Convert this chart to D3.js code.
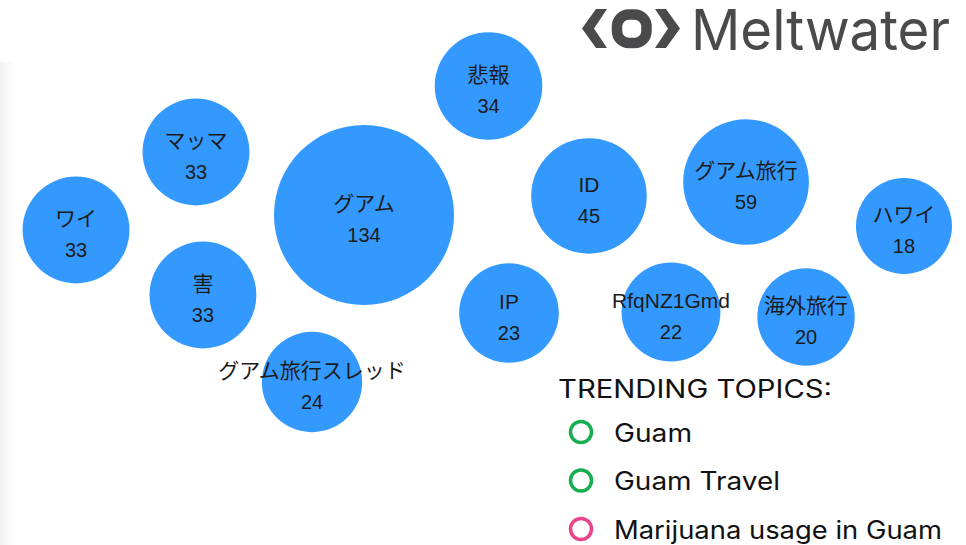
<!DOCTYPE html>
<html>
<head>
<meta charset="utf-8">
<script src="https://cdn.jsdelivr.net/npm/d3@7"></script>
<style>
  body { margin: 0; background: #fff; }
  svg { display: block; }
</style>
</head>
<body>
<div class="div_chart"></div>
<script>
// topic bubbles
const topics = ["ワイ", "マッマ", "害", "グアム", "グアム旅行スレッド", "悲報", "ID", "IP", "グアム旅行", "RfqNZ1Gmd", "海外旅行", "ハワイ"];
const counts = [33, 33, 33, 134, 24, 34, 45, 23, 59, 22, 20, 18];
// where each bubble sits, in % of the canvas
const layoutX = [7.87, 20.29, 21.01, 37.68, 32.3, 50.57, 60.97, 52.69, 77.23, 69.46, 83.44, 93.58];
const layoutY = [42.2, 27.89, 54.13, 39.45, 70.09, 15.78, 35.96, 57.43, 33.39, 57.25, 58.17, 41.47];

// legend
const legendTitle = "TRENDING TOPICS:";
const trending = ["Guam", "Guam Travel", "Marijuana usage in Guam"];
const trendKind = ["positive", "positive", "negative"];

const width = 966;
const height = 545;

const svg = d3.select(".div_chart")
  .append("svg")
    .attr("width", width)
    .attr("height", height);

// faint shadow on the left edge
const grad = svg.append("defs").append("linearGradient")
  .attr("id", "edge")
  .attr("x1", 0).attr("x2", 1);
grad.append("stop").attr("offset", 0).attr("stop-color", "#f2f2f2");
grad.append("stop").attr("offset", 1).attr("stop-color", "#ffffff");
svg.append("rect")
  .attr("x", 0).attr("y", 62)
  .attr("width", 16).attr("height", height - 62)
  .attr("fill", "url(#edge)");

const x = d3.scaleLinear().domain([0, 100]).range([0, width]);
const y = d3.scaleLinear().domain([0, 100]).range([0, height]);
const r = d3.scaleLinear().domain([18, 134]).range([48, 90]);

const data = topics.map((t, i) => ({topic: t, count: counts[i], px: layoutX[i], py: layoutY[i]}));

const bubble = svg.append("g")
  .selectAll("g")
  .data(data)
  .join("g")
    .attr("transform", d => `translate(${x(d.px)},${y(d.py)})`);

bubble.append("circle")
  .attr("r", d => r(d.count))
  .attr("fill", "#3399ff");

const labelFont = "'Liberation Sans', 'Noto Sans CJK JP', sans-serif";

bubble.append("text")
  .attr("y", -4)
  .attr("text-anchor", "middle")
  .attr("font-family", labelFont)
  .attr("font-size", 21)
  .attr("fill", "#1b1b1b")
  .text(d => d.topic);

bubble.append("text")
  .attr("y", 27)
  .attr("text-anchor", "middle")
  .attr("font-family", labelFont)
  .attr("font-size", 20)
  .attr("fill", "#1b1b1b")
  .text(d => d.count);

// legend
const legend = svg.append("g")
  .attr("font-family", "Inter, 'Open Sans', sans-serif")
  .attr("fill", "#111");

legend.append("text")
  .attr("x", 558)
  .attr("y", 398)
  .attr("font-size", 25)
  .attr("textLength", 274)
  .attr("lengthAdjust", "spacingAndGlyphs")
  .text(legendTitle);

const ly = d3.scalePoint().domain(trending).range([432, 529]);
const kindColor = d3.scaleOrdinal().domain(["positive", "negative"]).range(["#17ad50", "#e8458b"]);
// Gotham-like width of each item line
const itemWidth = d3.scaleOrdinal().domain(trending).range([78, 166, 328]);

const item = legend.selectAll("g.item")
  .data(trending)
  .join("g")
    .attr("class", "item")
    .attr("transform", d => `translate(0,${ly(d)})`);

item.append("circle")
  .attr("cx", 581)
  .attr("r", 10.5)
  .attr("fill", "none")
  .attr("stroke-width", 3.5)
  .attr("stroke", (d, i) => kindColor(trendKind[i]));

item.append("text")
  .attr("x", 614)
  .attr("y", 9.5)
  .attr("font-size", 25)
  .attr("textLength", d => itemWidth(d))
  .attr("lengthAdjust", "spacingAndGlyphs")
  .text(d => d);

// Meltwater logo
const logo = svg.append("g").attr("fill", "#4a4a4c");
logo.append("polygon")
  .attr("points", "596,9 607,9 594,28.5 607,48 596,48 582,28.5");
logo.append("rect")
  .attr("x", 617).attr("y", 14.5)
  .attr("width", 29.5).attr("height", 28.5)
  .attr("rx", 12)
  .attr("fill", "none")
  .attr("stroke", "#4a4a4c")
  .attr("stroke-width", 10.5);
logo.append("polygon")
  .attr("points", "655,9 666,9 680,28.5 666,48 655,48 668,28.5");
logo.append("text")
  .attr("x", 691)
  .attr("y", 49.5)
  .attr("font-family", "Inter, 'Open Sans', sans-serif")
  .attr("font-size", 56)
  .attr("textLength", 259)
  .attr("lengthAdjust", "spacingAndGlyphs")
  .text("Meltwater");
</script>
</body>
</html>
